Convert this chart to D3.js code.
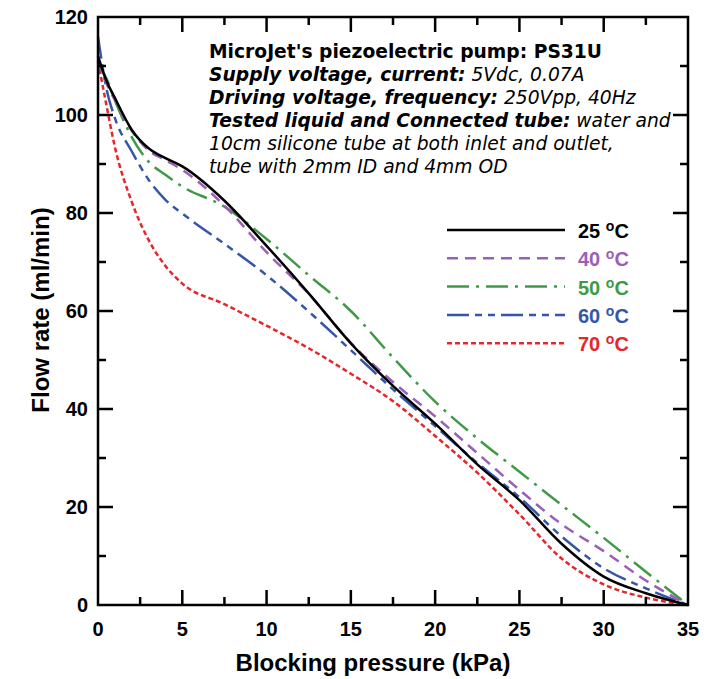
<!DOCTYPE html>
<html>
<head>
<meta charset="utf-8">
<script src="https://cdn.jsdelivr.net/npm/d3@7"></script>
<style>
  body { margin: 0; background: #fff; }
  svg { font-family: "Liberation Sans", Arial, sans-serif; }
</style>
</head>
<body>
<div id="chart"></div>
<script>
// values
let pressure = [0, 0.5, 1, 2, 3, 4, 5, 7.5, 10, 12.5, 15, 17.5, 20, 22.5, 25, 27.5, 30, 32.5, 35];
let flow25 = [112, 107, 103.5, 97, 93.2, 91.2, 89.5, 82.5, 73.3, 63.6, 53.4, 44.7, 37, 28.7, 21.4, 12.5, 5.8, 2.4, 0];
let flow40 = [111, 106.5, 103, 96.8, 92.8, 90.8, 88.8, 81.5, 72, 63.5, 53.5, 45.5, 38.5, 31, 23.5, 16.5, 11, 5, 0];
let flow50 = [110, 107.5, 103, 95.5, 90.5, 87.8, 85.4, 81.3, 74.7, 67.3, 60, 50.5, 41.5, 34, 27.2, 20.4, 13.7, 6.8, 0];
let flow60 = [116, 105.4, 99.4, 92.6, 86.8, 82.7, 79.9, 73.7, 67.3, 59.9, 52, 44, 36.5, 29, 22, 14, 7.5, 3.4, 0];
let flow70 = [111, 102, 93.5, 82.3, 74.5, 69.2, 65.6, 61.4, 57, 52.4, 47.2, 41.6, 34.5, 27, 18.5, 9.5, 4.2, 1.5, 0];

let temps = ["25", "40", "50", "60", "70"];
let xMajor = [0, 5, 10, 15, 20, 25, 30, 35];
let yMajor = [0, 20, 40, 60, 80, 100, 120];

let series = [
  { t: temps[0], v: flow25, color: "#000000", dash: null },
  { t: temps[1], v: flow40, color: "#9a5fb8", dash: "11,7" },
  { t: temps[2], v: flow50, color: "#3f9a46", dash: "22,7,3,7" },
  { t: temps[3], v: flow60, color: "#3556a8", dash: "22,6,7,6,7,6" },
  { t: temps[4], v: flow70, color: "#e5262b", dash: "5,3" }
];

let W = 713, H = 679;
let pLeft = 98, pRight = 688, pTop = 17, pBottom = 605;

let svg = d3.select("#chart").append("svg")
  .attr("width", W)
  .attr("height", H)
  .style("background-color", "white");

let x = d3.scaleLinear().domain([0, 35]).range([pLeft, pRight]);
let y = d3.scaleLinear().domain([0, 120]).range([pBottom, pTop]);

let xMinor = d3.range(2.5, 35, 5);
let yMinor = d3.range(10, 120, 20);

// tick labels
svg.append("g").selectAll("text").data(xMajor).join("text")
  .attr("x", d => x(d)).attr("y", pBottom + 31)
  .attr("text-anchor", "middle")
  .style("font-size", "20px").style("font-weight", "bold")
  .text(d => d);
svg.append("g").selectAll("text").data(yMajor).join("text")
  .attr("x", pLeft - 10).attr("y", d => y(d) + 7)
  .attr("text-anchor", "end")
  .style("font-size", "20px").style("font-weight", "bold")
  .text(d => d);

// curves
let line = d3.line()
  .x((d, i) => x(pressure[i]))
  .y(d => y(d))
  .curve(d3.curveMonotoneX);

svg.append("g")
  .selectAll("path")
  .data(series.slice().reverse())
  .join("path")
  .attr("d", d => line(d.v))
  .attr("fill", "none")
  .attr("stroke", d => d.color)
  .attr("stroke-width", 2.5)
  .attr("stroke-dasharray", d => d.dash);

// frame plus inward ticks on all four sides, as one path
let fp = d3.path();
fp.rect(pLeft, pTop, pRight - pLeft, pBottom - pTop);
function addX(vals, len) {
  vals.forEach(v => {
    fp.moveTo(x(v), pBottom); fp.lineTo(x(v), pBottom - len);
    fp.moveTo(x(v), pTop); fp.lineTo(x(v), pTop + len);
  });
}
function addY(vals, len) {
  vals.forEach(v => {
    fp.moveTo(pLeft, y(v)); fp.lineTo(pLeft + len, y(v));
    fp.moveTo(pRight, y(v)); fp.lineTo(pRight - len, y(v));
  });
}
addX(xMajor, 15);
addX(xMinor, 8);
addY(yMajor, 15);
addY(yMinor, 8);

svg.append("path")
  .attr("d", fp.toString())
  .attr("fill", "none")
  .attr("stroke", "#000")
  .attr("stroke-width", 2.5);

// legend
let legend = svg.append("g").selectAll("g")
  .data(series)
  .join("g")
  .attr("transform", (d, i) => `translate(447,${230 + i * 28.3})`);

legend.append("line")
  .attr("x1", 0).attr("x2", 118)
  .attr("stroke", d => d.color)
  .attr("stroke-width", 2.5)
  .attr("stroke-dasharray", d => d.dash);

let lt = legend.append("text")
  .attr("x", 131).attr("y", 8)
  .attr("fill", d => d.color)
  .style("font-size", "20px").style("font-weight", "bold");
lt.append("tspan").text(d => d.t + " ");
lt.append("tspan").attr("dy", -7).style("font-size", "14px").text("o");
lt.append("tspan").attr("dy", 7).text("C");

// annotation
let notes = [
  [["MicroJet's piezoelectric pump: PS31U", "bold", "normal"]],
  [["Supply voltage, current:", "bold", "italic"], [" 5Vdc, 0.07A", "normal", "italic"]],
  [["Driving voltage, frequency:", "bold", "italic"], [" 250Vpp, 40Hz", "normal", "italic"]],
  [["Tested liquid and Connected tube:", "bold", "italic"], [" water and", "normal", "italic"]],
  [["10cm silicone tube at both inlet and outlet,", "normal", "italic"]],
  [["tube with 2mm ID and 4mm OD", "normal", "italic"]]
];

let note = svg.append("text")
  .attr("x", 209).attr("y", 58)
  .style("font-family", "DejaVu Sans, sans-serif")
  .style("font-size", "18.7px");
notes.forEach((row, i) => {
  row.forEach((part, j) => {
    let ts = note.append("tspan")
      .style("font-weight", part[1])
      .style("font-style", part[2])
      .text(part[0]);
    if (j === 0) ts.attr("x", 209).attr("y", 58 + i * 23);
  });
});

// axis titles
svg.append("text")
  .attr("x", 373).attr("y", 671)
  .attr("text-anchor", "middle")
  .style("font-size", "24px").style("font-weight", "bold")
  .text("Blocking pressure (kPa)");

svg.append("text")
  .attr("transform", `translate(49,310) rotate(-90)`)
  .attr("text-anchor", "middle")
  .style("font-size", "24px").style("font-weight", "bold")
  .text("Flow rate (ml/min)");
</script>
</body>
</html>
